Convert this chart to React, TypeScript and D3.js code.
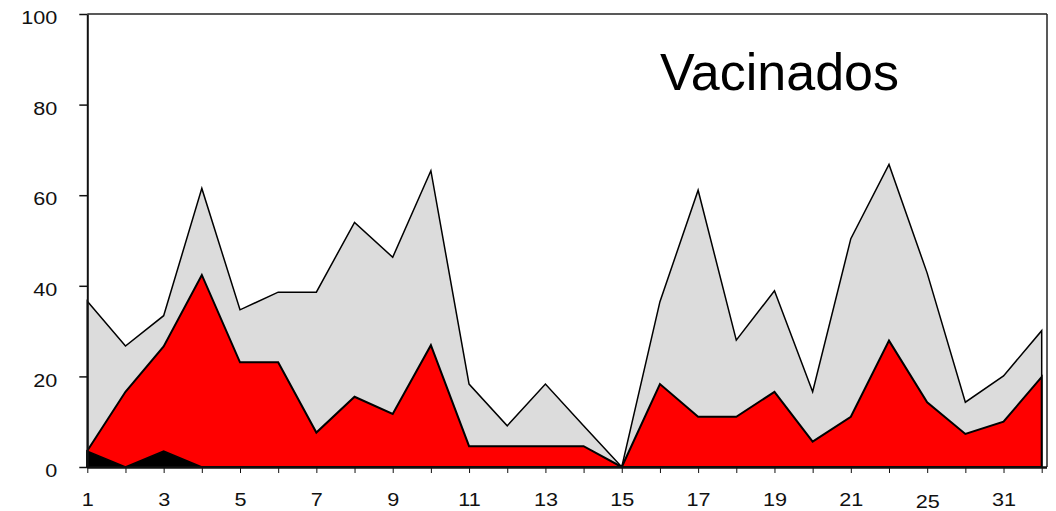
import * as d3 from 'd3'
import { useRef, useEffect } from 'react'

const categories = ['1','2','3','4','5','6','7','8','9','10','11','12','13','14','15','16','17','18','19','20','21','22','25','26','31','32']
const totalValues = [36.6,26.7,33.4,61.5,34.7,38.6,38.6,54.0,46.3,65.4,18.3,9.1,18.3,9.1,0,36.5,61.1,28.0,38.9,16.6,50.4,66.8,42.8,14.3,20.1,30.1]
const redValues = [3.6,16.6,26.6,42.4,23.1,23.1,7.6,15.5,11.7,26.9,4.6,4.6,4.6,4.6,0,18.3,11.1,11.1,16.6,5.6,11.1,27.9,14.3,7.3,10.0,19.9]
const blackValues = [3.5,0,3.5,0,0,0,0,0,0,0,0,0,0,0,0,0,0,0,0,0,0,0,0,0,0,0]
const yTicks = [0,20,40,60,80,100]

export default function App(){
    const svgRef = useRef<SVGSVGElement>(null)
    const width = 1056
    const height = 511

    useEffect(()=>{
        const svg = d3.select(svgRef.current)
        svg.selectAll('*').remove()

        const left = 87.3, right = 1041.7, frameRight = 1047, top = 14, bottom = 467
        const font = '"Liberation Sans", Arial, sans-serif'
        const stretch = 1.17 // axis digits in the original are wider than plain Arial

        const xScale = d3.scalePoint<string>()
            .domain(categories)
            .range([left, right])

        const yScale = d3.scaleLinear()
            .domain([0, 100])
            .range([bottom, top])

        const series = [
            {vals: totalValues, fill: '#dcdcdc', sw: 1.5},
            {vals: redValues, fill: '#ff0000', sw: 2},
            {vals: blackValues, fill: '#000000', sw: 1.5},
        ]

        series.forEach(s=>{
            const area = d3.area<number>()
                .x((_, i)=>xScale(categories[i]) as number)
                .y0(yScale(0))
                .y1(d=>yScale(d))
            svg.append('path')
                .datum(s.vals)
                .attr('d', area)
                .attr('fill', s.fill)
                .attr('stroke', 'black')
                .attr('stroke-width', s.sw)
        })

        // frame
        svg.append('line')
            .attr('x1', left).attr('x2', frameRight)
            .attr('y1', top).attr('y2', top)
            .attr('stroke', '#222').attr('stroke-width', 1.5)
        svg.append('line')
            .attr('x1', frameRight).attr('x2', frameRight)
            .attr('y1', top).attr('y2', bottom)
            .attr('stroke', '#222').attr('stroke-width', 1.5)

        const yPad = 22
        const yAxis = svg.append('g')
            .attr('transform', `translate(${left},0)`)
            .call(d3.axisLeft(yScale).tickValues(yTicks).tickSize(8).tickPadding(yPad).tickSizeOuter(0))
        yAxis.select('.domain').attr('stroke', '#111').attr('stroke-width', 2)
        yAxis.selectAll('.tick line').attr('stroke', '#111').attr('stroke-width', 1.5)
        const yx = -(8 + yPad)
        yAxis.selectAll('text')
            .attr('font-family', font)
            .attr('font-size', 18.5)
            .attr('fill', '#111')
            .attr('dy', '0.52em')
            .attr('transform', `translate(${yx},0) scale(${stretch},1) translate(${-yx},0)`)

        const xAxis = svg.append('g')
            .attr('transform', `translate(0,${bottom})`)
            .call(d3.axisBottom(xScale)
                .tickSize(6)
                .tickPadding(20)
                .tickSizeOuter(0)
                .tickFormat((d, i)=> i % 2 === 0 ? d : ''))
        xAxis.select('.domain')
            .attr('d', `M${left},0.5H${frameRight}`)
            .attr('stroke', '#111').attr('stroke-width', 2.5)
        xAxis.selectAll('.tick line').attr('stroke', '#111').attr('stroke-width', 1)
        xAxis.selectAll('text')
            .attr('font-family', font)
            .attr('font-size', 18.5)
            .attr('fill', '#111')
            .attr('dy', (d:any)=> d === '25' ? '0.82em' : '0.71em')
            .attr('transform', `scale(${stretch},1)`)

        svg.append('text')
            .text('Vacinados')
            .attr('x', 660)
            .attr('y', 90)
            .attr('font-family', font)
            .attr('font-size', 52)
            .attr('fill', '#000')

    },[])

    return (
        <svg ref={svgRef} width={width} height={height}
            style={{position: 'absolute', left: 0, top: 0, background: '#fff'}}>
        </svg>
    )
}
